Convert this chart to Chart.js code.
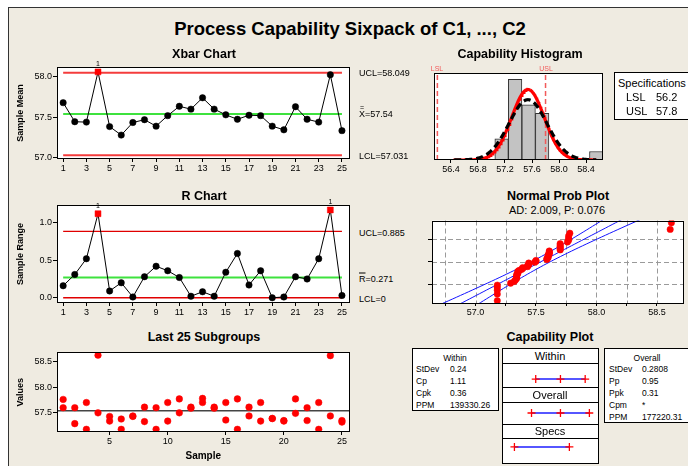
<!DOCTYPE html>
<html>
<head>
<meta charset="utf-8">
<title>Process Capability Sixpack of C1, ..., C2</title>
<script src="https://cdn.jsdelivr.net/npm/chart.js@4.4.1/dist/chart.umd.min.js"></script>
<style>
  html, body { margin: 0; padding: 0; }
  body { width: 688px; height: 466px; position: relative; overflow: hidden; background: #fff;
         font-family: "Liberation Sans", Arial, sans-serif; color: #000; }
  #frame { position: absolute; left: 8px; top: 7px; width: 700px; height: 480px; background: #efebe1;
           border-left: 1px solid #333; border-top: 1px solid #333; }
  canvas { position: absolute; }
  .lbl { position: absolute; white-space: nowrap; line-height: 1; z-index: 3; }
  .c { transform: translate(-50%, -50%); }
  .m { transform: translateY(-50%); }
  .box { position: absolute; box-sizing: border-box; background: #fff; border: 1px solid #000; z-index: 1; }
</style>
</head>
<body>
<div id="frame"></div>
<script>
// subgroup number and the two measurements of each subgroup
const sample = [1, 2, 3, 4, 5, 6, 7, 8, 9, 10, 11, 12, 13, 14, 15, 16, 17, 18, 19, 20, 21, 22, 23, 24, 25];
const c1 = [57.76, 57.60, 57.70, 58.62, 57.43, 57.38, 57.44, 57.61, 57.60, 57.70, 57.77, 57.61, 57.78,
            57.61, 57.70, 57.77, 57.61, 57.70, 57.39, 57.35, 57.77, 57.60, 57.70, 58.61, 57.35];
const c2 = [57.60, 57.29, 57.18, 57.50, 57.34, 57.18, 57.43, 57.33, 57.18, 57.34, 57.50, 57.59, 57.70,
            57.59, 57.36, 57.18, 57.44, 57.34, 57.39, 57.34, 57.49, 57.35, 57.18, 57.44, 57.32];

// control limits
const xbarUCL = 58.049, xbarCL = 57.54, xbarLCL = 57.031;
const rUCL = 0.885, rCL = 0.271, rLCL = 0;

// capability
const LSL = 56.2, USL = 57.8;
const sdWithin = 0.24, sdOverall = 0.2808;
const binCenters = [57.15, 57.35, 57.55, 57.75, 57.95, 58.15, 58.35, 58.55];
const binWidth = 0.2;
const withinStats = [['StDev', '0.24'], ['Cp', '1.11'], ['Cpk', '0.36'], ['PPM', '139330.26']];
const overallStats = [['StDev', '0.2808'], ['Pp', '0.95'], ['Ppk', '0.31'], ['Cpm', '*'], ['PPM', '177220.31']];

// tick labels
const idxTicks = [1, 3, 5, 7, 9, 11, 13, 15, 17, 19, 21, 23, 25];
const idxTicks5 = [5, 10, 15, 20, 25];
const histTicks = [56.4, 56.8, 57.2, 57.6, 58.0, 58.4];
const probTicks = [56.75, 57.0, 57.25, 57.5, 57.75, 58.0, 58.25, 58.5];

const xbar = c1.map((v, i) => (v + c2[i]) / 2);
const rng = c1.map((v, i) => Math.abs(v - c2[i]));
const allVals = c1.concat(c2).sort((a, b) => a - b);
const n = allVals.length;

Chart.defaults.font.family = '"Liberation Sans", Arial, sans-serif';
Chart.defaults.font.size = 9;
Chart.defaults.color = '#000';
Chart.defaults.animation = false;
Chart.defaults.plugins.legend.display = false;
Chart.defaults.plugins.tooltip.enabled = false;

// white plot area and black frame around it
const plotBox = {
  id: 'plotBox',
  beforeDraw(chart) {
    const a = chart.chartArea, ctx = chart.ctx;
    ctx.save();
    ctx.fillStyle = '#fff';
    ctx.fillRect(a.left, a.top, a.width, a.height);
    ctx.restore();
  },
  afterDraw(chart) {
    const a = chart.chartArea, ctx = chart.ctx;
    ctx.save();
    ctx.strokeStyle = '#000';
    ctx.lineWidth = 1;
    ctx.strokeRect(Math.round(a.left) + 0.5, Math.round(a.top) + 0.5, Math.round(a.width) - 1, Math.round(a.height) - 1);
    ctx.restore();
  }
};

// the little "1" over points that fail test 1
const flagMarks = {
  id: 'flagMarks',
  afterDatasetsDraw(chart, args, opts) {
    if (!opts.limits) return;
    const meta = chart.getDatasetMeta(0), data = chart.data.datasets[0].data, ctx = chart.ctx;
    ctx.save();
    ctx.font = '7px "Liberation Sans", Arial';
    ctx.fillStyle = '#000';
    ctx.textAlign = 'center';
    ctx.textBaseline = 'bottom';
    meta.data.forEach((pt, i) => {
      const v = data[i].y;
      if (v > opts.limits[0] || v < opts.limits[1]) ctx.fillText('1', pt.x, pt.y - 4);
    });
    ctx.restore();
  }
};

// dashed grey grid of the probability plot, at the scales' tick values
const dashGrid = {
  id: 'dashGrid',
  beforeDatasetsDraw(chart, args, opts) {
    if (!opts.on) return;
    const a = chart.chartArea, ctx = chart.ctx;
    ctx.save();
    ctx.strokeStyle = '#9a9a9a';
    ctx.lineWidth = 1;
    ctx.setLineDash([5, 3]);
    chart.scales.x.ticks.forEach(t => {
      const px = Math.round(chart.scales.x.getPixelForValue(t.value)) + 0.5;
      ctx.beginPath(); ctx.moveTo(px, a.top); ctx.lineTo(px, a.bottom); ctx.stroke();
    });
    chart.scales.y.ticks.forEach(t => {
      const py = Math.round(chart.scales.y.getPixelForValue(t.value)) + 0.5;
      ctx.beginPath(); ctx.moveTo(a.left, py); ctx.lineTo(a.right, py); ctx.stroke();
    });
    ctx.restore();
  }
};
Chart.register(plotBox, flagMarks, dashGrid);

function place(l, t, w, h) {
  const c = document.createElement('canvas');
  c.width = w; c.height = h;
  c.style.left = l + 'px'; c.style.top = t + 'px';
  c.style.width = w + 'px'; c.style.height = h + 'px';
  document.body.appendChild(c);
  return c;
}

function text(str, x, y, size, o) {
  o = o || {};
  const d = document.createElement('div');
  d.className = 'lbl ' + (o.left ? 'm' : 'c');
  d.style.left = x + 'px';
  d.style.top = y + 'px';
  d.style.fontSize = size + 'px';
  if (o.bold) d.style.fontWeight = 'bold';
  if (o.color) d.style.color = o.color;
  d.innerHTML = str;
  document.body.appendChild(d);
}

function box(l, t, w, h) {
  const d = document.createElement('div');
  d.className = 'box';
  d.style.left = l + 'px'; d.style.top = t + 'px';
  d.style.width = w + 'px'; d.style.height = h + 'px';
  document.body.appendChild(d);
}

const xMin = 0.47, xMax = 25.65;

function xIdx(ticks, h, title) {
  return {
    type: 'linear', min: xMin, max: xMax,
    afterBuildTicks: s => { s.ticks = ticks.map(v => ({ value: v })); },
    afterFit: s => { s.height = h; },
    grid: { display: true, drawOnChartArea: false, drawTicks: true, tickLength: 3, color: '#000' },
    border: { display: false },
    ticks: { padding: 1, autoSkip: false, maxRotation: 0, color: '#000' },
    title: title ? { display: true, text: title, font: { size: 10, weight: 'bold' }, padding: { top: 0, bottom: 4 }, color: '#000' }
                 : { display: false }
  };
}

function yVal(min, max, ticks, title) {
  return {
    type: 'linear', min: min, max: max,
    afterBuildTicks: s => { s.ticks = ticks.map(v => ({ value: v })); },
    afterFit: s => { s.width = 45; },
    grid: { display: true, drawOnChartArea: false, drawTicks: true, tickLength: 4, color: '#000' },
    border: { display: false },
    ticks: { padding: 1, color: '#000', callback: v => v.toFixed(1) },
    title: { display: true, text: title, font: { size: 9, weight: 'bold' }, padding: { top: 3, bottom: 0 }, color: '#000' }
  };
}

function hline(y, color, width, x0, x1) {
  return { data: [{ x: x0, y: y }, { x: x1, y: y }], borderColor: color, borderWidth: width, pointRadius: 0 };
}

function ctrlSeries(vals, ucl, lcl) {
  const out = i => vals[i] > ucl || vals[i] < lcl;
  return {
    data: vals.map((v, i) => ({ x: sample[i], y: v })),
    borderColor: '#000', borderWidth: 1,
    pointStyle: c => out(c.dataIndex) ? 'rect' : 'circle',
    pointRadius: c => out(c.dataIndex) ? 4.2 : 3.2,
    pointBackgroundColor: c => out(c.dataIndex) ? '#ff0000' : '#000',
    pointBorderColor: c => out(c.dataIndex) ? '#ff0000' : '#000',
    pointBorderWidth: 0.5
  };
}

// ---------------- Xbar chart
new Chart(place(12, 56, 342, 124), {
  type: 'line',
  data: { datasets: [
    ctrlSeries(xbar, xbarUCL, xbarLCL),
    hline(xbarUCL, '#f43c3c', 2, 1, 25),
    hline(xbarCL, '#3ee23e', 2, 1, 25),
    hline(xbarLCL, '#f43c3c', 2, 1, 25)
  ] },
  options: {
    responsive: false,
    layout: { padding: { top: 11, right: 2, left: 0, bottom: 0 } },
    scales: { x: xIdx(idxTicks, 21), y: yVal(56.985, 58.12, [57.0, 57.5, 58.0], 'Sample Mean') },
    plugins: { flagMarks: { limits: [xbarUCL, xbarLCL] } }
  }
});

// ---------------- R chart
new Chart(place(12, 197, 342, 127), {
  type: 'line',
  data: { datasets: [
    ctrlSeries(rng, rUCL, -1),
    hline(rUCL, '#e00000', 1.3, 1, 25),
    hline(rCL, '#3ee23e', 2, 1, 25),
    hline(rLCL, '#e00000', 1.3, 1, 25)
  ] },
  options: {
    responsive: false,
    layout: { padding: { top: 8, right: 2, left: 0, bottom: 0 } },
    scales: { x: xIdx(idxTicks, 21), y: yVal(-0.07, 1.236, [0.0, 0.5, 1.0], 'Sample Range') },
    plugins: { flagMarks: { limits: [rUCL, -1] } }
  }
});

// ---------------- Last 25 subgroups
const dot = { showLine: false, pointRadius: 3.3, pointBackgroundColor: '#ff0000', pointBorderColor: '#ff0000', pointBorderWidth: 0.5 };
new Chart(place(12, 346, 342, 120), {
  type: 'scatter',
  data: { datasets: [
    Object.assign({ data: c1.map((v, i) => ({ x: sample[i], y: v })) }, dot),
    Object.assign({ data: c2.map((v, i) => ({ x: sample[i], y: v })) }, dot),
    Object.assign(hline(xbarCL, '#444', 1.5, xMin, xMax), { showLine: true })
  ] },
  options: {
    responsive: false,
    layout: { padding: { top: 3, right: 2, left: 0, bottom: 0 } },
    scales: { x: xIdx(idxTicks5, 34, 'Sample'), y: yVal(57.128, 58.673, [57.5, 58.0, 58.5], 'Values') }
  }
});

// ---------------- Capability histogram
const counts = binCenters.map(c => allVals.filter(v => v >= c - binWidth / 2 && v < c + binWidth / 2).length);
function normalCurve(mu, sd) {
  const pts = [];
  for (let k = 0; k <= 210; k++) {
    const x = 56.45 + k * 0.01;
    const y = n * binWidth * Math.exp(-0.5 * ((x - mu) / sd) ** 2) / (sd * Math.sqrt(2 * Math.PI));
    pts.push({ x: x, y: y });
  }
  return pts;
}
const histMax = 20.5;
new Chart(place(430, 60, 177, 114), {
  type: 'bar',
  data: { datasets: [
    { type: 'line', data: normalCurve(xbarCL, sdOverall), borderColor: '#000', borderWidth: 3.2, borderDash: [7, 4], pointRadius: 0 },
    { type: 'line', data: normalCurve(xbarCL, sdWithin), borderColor: '#ff0000', borderWidth: 3.2, pointRadius: 0 },
    { type: 'line', data: [{ x: LSL, y: 0 }, { x: LSL, y: histMax }], borderColor: '#f25a5a', borderWidth: 1.5, borderDash: [5, 3], pointRadius: 0 },
    { type: 'line', data: [{ x: USL, y: 0 }, { x: USL, y: histMax }], borderColor: '#f25a5a', borderWidth: 1.5, borderDash: [5, 3], pointRadius: 0 },
    { type: 'bar', data: binCenters.map((c, i) => ({ x: c, y: counts[i] })), backgroundColor: '#c3c3c3',
      borderColor: '#333', borderWidth: 1, barPercentage: 1, categoryPercentage: 1 }
  ] },
  options: {
    responsive: false,
    layout: { padding: { top: 13, right: 4, left: 4, bottom: 0 } },
    scales: {
      x: { type: 'linear', min: 56.15, max: 58.65, offset: false,
           afterBuildTicks: s => { s.ticks = histTicks.map(v => ({ value: v })); },
           afterFit: s => { s.height = 14; },
           grid: { display: true, offset: false, drawOnChartArea: false, tickLength: 3, color: '#000' },
           border: { display: false },
           ticks: { padding: 1, autoSkip: false, maxRotation: 0, callback: v => v.toFixed(1) } },
      y: { display: false, min: 0, max: histMax }
    }
  }
});

// ---------------- Normal probability plot
function normInv(p) {
  const a = [-3.969683028665376e+01, 2.209460984245205e+02, -2.759285104469687e+02, 1.383577518672690e+02, -3.066479806614716e+01, 2.506628277459239e+00];
  const b = [-5.447609879822406e+01, 1.615858368580409e+02, -1.556989798598866e+02, 6.680131188771972e+01, -1.328068155288572e+01];
  const c = [-7.784894002430293e-03, -3.223964580411365e-01, -2.400758277161838e+00, -2.549732539343734e+00, 4.374664141464968e+00, 2.938163982698783e+00];
  const d = [7.784695709041462e-03, 3.224671290700398e-01, 2.445134137142996e+00, 3.754408661907416e+00];
  let q, r;
  if (p < 0.02425) {
    q = Math.sqrt(-2 * Math.log(p));
    return (((((c[0] * q + c[1]) * q + c[2]) * q + c[3]) * q + c[4]) * q + c[5]) / ((((d[0] * q + d[1]) * q + d[2]) * q + d[3]) * q + 1);
  }
  if (p > 1 - 0.02425) return -normInv(1 - p);
  q = p - 0.5; r = q * q;
  return (((((a[0] * r + a[1]) * r + a[2]) * r + a[3]) * r + a[4]) * r + a[5]) * q /
         (((((b[0] * r + b[1]) * r + b[2]) * r + b[3]) * r + b[4]) * r + 1);
}
const probPts = allVals.map((v, i) => ({ x: v, y: normInv((i + 1 - 0.3) / (n + 0.4)) }));
const fitLine = [], bandLo = [], bandHi = [];
for (let k = -26; k <= 26; k++) {
  const z = k / 10;
  const half = 1.96 * sdOverall * Math.sqrt(1 / n + z * z / (2 * n));
  fitLine.push({ x: xbarCL + sdOverall * z, y: z });
  bandLo.push({ x: xbarCL + sdOverall * z - half, y: z });
  bandHi.push({ x: xbarCL + sdOverall * z + half, y: z });
}
const zGrid = [normInv(0.1), 0, normInv(0.9)];
const blue = { showLine: true, borderColor: '#1414ff', borderWidth: 1, pointRadius: 0 };
new Chart(place(426, 216, 262, 101), {
  type: 'scatter',
  data: { datasets: [
    { data: probPts, pointRadius: 3.2, pointBackgroundColor: '#ff0000', pointBorderColor: '#ff0000', pointBorderWidth: 0.5 },
    Object.assign({ data: fitLine }, blue),
    Object.assign({ data: bandLo }, blue),
    Object.assign({ data: bandHi }, blue)
  ] },
  options: {
    responsive: false,
    layout: { padding: { top: 3, right: 1, left: 0, bottom: 0 } },
    scales: {
      x: { type: 'linear', min: 56.64, max: 58.72,
           afterBuildTicks: s => { s.ticks = probTicks.map(v => ({ value: v })); },
           afterFit: s => { s.height = 14; },
           grid: { display: true, drawOnChartArea: false, tickLength: 3, color: '#000' },
           border: { display: false },
           ticks: { padding: 1, autoSkip: false, maxRotation: 0,
                    callback: v => Math.abs(v * 2 - Math.round(v * 2)) < 1e-6 ? v.toFixed(1) : '' } },
      y: { type: 'linear', min: -2.33, max: 2.33,
           afterBuildTicks: s => { s.ticks = zGrid.map(v => ({ value: v })); },
           afterFit: s => { s.width = 6; },
           grid: { display: true, drawOnChartArea: false, tickLength: 4, color: '#000' },
           border: { display: false },
           ticks: { display: false } }
    },
    plugins: { dashGrid: { on: true } }
  }
});

// ---------------- Capability plot
box(412, 348, 87, 63);
box(604, 348, 90, 75);
box(502, 348, 97, 16);
box(502, 363, 97, 25);
box(502, 387, 97, 16);
box(502, 402, 97, 23);
box(502, 424, 97, 15);
box(502, 438, 97, 26);

const cross = { showLine: true, borderColor: '#1e1eff', borderWidth: 1.5, pointStyle: 'cross', pointRadius: 4,
                pointBorderColor: '#ff0000', pointBorderWidth: 1.3 };
const capCanvas = place(502, 363, 97, 100);
capCanvas.style.zIndex = 2;
new Chart(capCanvas, {
  type: 'scatter',
  data: { datasets: [
    Object.assign({ data: [{ x: xbarCL - 3 * sdWithin, y: 0 }, { x: xbarCL, y: 0 }, { x: xbarCL + 3 * sdWithin, y: 0 }] }, cross),
    Object.assign({ data: [{ x: xbarCL - 3 * sdOverall, y: 1 }, { x: xbarCL, y: 1 }, { x: xbarCL + 3 * sdOverall, y: 1 }] }, cross),
    Object.assign({ data: [{ x: LSL, y: 2 }, { x: USL, y: 2 }] }, cross)
  ] },
  options: {
    responsive: false,
    layout: { padding: 0 },
    scales: {
      x: { type: 'linear', display: false, min: 55.9925, max: 58.508 },
      y: { type: 'linear', display: false, min: -0.316, max: 2.316, reverse: true }
    },
    plugins: { plotBox: false }
  }
});

// ---------------- texts
text('Process Capability Sixpack of C1, ..., C2', 350, 29, 18.5, { bold: true });
text('Xbar Chart', 204, 54, 12.5, { bold: true });
text('R Chart', 204, 196, 12.5, { bold: true });
text('Last 25 Subgroups', 204, 337, 12.5, { bold: true });
text('Capability Histogram', 520, 54, 12.5, { bold: true });
text('Normal Prob Plot', 558, 196, 12.5, { bold: true });
text('AD: 2.009, P: 0.076', 557, 210, 11);
text('Capability Plot', 550, 337, 12.5, { bold: true });

text('UCL=' + xbarUCL.toFixed(3), 359, 73, 9, { left: true });
text('<span style="position:relative;display:inline-block">X<span style="position:absolute;left:1px;top:-6px;font-size:7px">=</span></span>=' + xbarCL.toFixed(2), 359, 114, 9, { left: true });
text('LCL=' + xbarLCL.toFixed(3), 359, 156, 9, { left: true });
text('UCL=' + rUCL.toFixed(3), 359, 233, 9, { left: true });
text('<span style="text-decoration:overline">R</span>=' + rCL.toFixed(3), 359, 279, 9, { left: true });
text('LCL=' + rLCL, 359, 299, 9, { left: true });

text('LSL', 437, 68, 7, { color: '#f25a5a' });
text('USL', 546, 68, 7, { color: '#f25a5a' });
box(614, 72, 80, 48);
text('Specifications', 618, 83, 11, { left: true });
text('LSL', 626, 97, 11, { left: true });
text(LSL.toFixed(1), 656, 97, 11, { left: true });
text('USL', 626, 111, 11, { left: true });
text(USL.toFixed(1), 656, 111, 11, { left: true });

text('Within', 455, 358, 8.5);
withinStats.forEach((r, i) => {
  text(r[0], 416, 369 + i * 12, 8.5, { left: true });
  text(r[1], 450, 369 + i * 12, 8.5, { left: true });
});
text('Overall', 647, 358, 8.5);
overallStats.forEach((r, i) => {
  text(r[0], 609, 369 + i * 12, 8.5, { left: true });
  text(r[1], 642, 369 + i * 12, 8.5, { left: true });
});
text('Within', 550, 356, 11);
text('Overall', 550, 395, 11);
text('Specs', 550, 431, 11);
</script>
</body>
</html>
